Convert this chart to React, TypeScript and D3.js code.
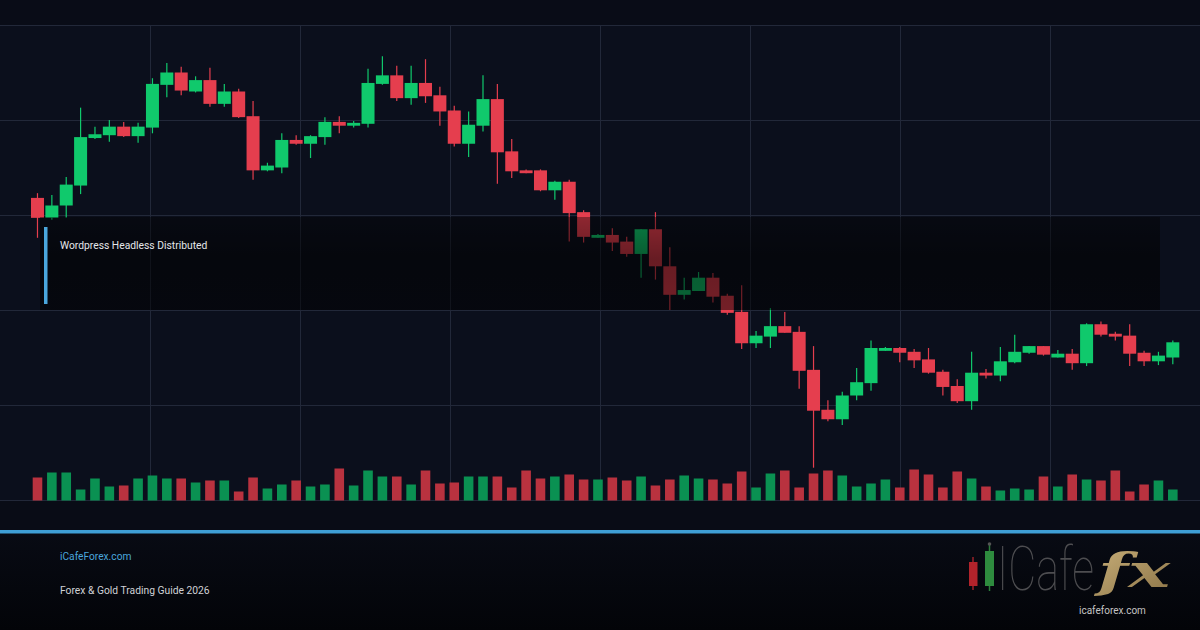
import React, { useRef, useEffect } from "react";
import * as d3 from "d3";

// OHLC, one entry per candle
const opens = [
  2318, 2297, 2310, 2331, 2381, 2384, 2393, 2383, 2392, 2437,
  2450, 2430, 2442, 2417, 2430, 2404, 2347, 2350, 2379, 2375,
  2382, 2398, 2394, 2396, 2438, 2447, 2423, 2439, 2426, 2410,
  2375, 2394, 2422, 2367, 2347, 2347, 2326, 2335, 2303, 2276,
  2279, 2272, 2259, 2285, 2246, 2216, 2220, 2234, 2215, 2198,
  2165, 2172, 2183, 2177, 2137, 2095, 2085, 2110, 2123, 2157,
  2160, 2156, 2148, 2135, 2120, 2104, 2134, 2131, 2145, 2155,
  2162, 2150, 2154, 2144, 2185, 2175, 2173, 2155, 2146, 2150,
];
const highs = [
  2323, 2321, 2340, 2413, 2393, 2400, 2398, 2397, 2444, 2460,
  2456, 2446, 2455, 2438, 2433, 2420, 2355, 2386, 2384, 2384,
  2403, 2404, 2399, 2454, 2467, 2457, 2457, 2464, 2435, 2415,
  2409, 2447, 2438, 2380, 2348, 2348, 2336, 2337, 2305, 2280,
  2286, 2277, 2285, 2303, 2266, 2234, 2240, 2239, 2217, 2226,
  2178, 2202, 2198, 2183, 2162, 2105, 2114, 2139, 2168, 2161,
  2161, 2159, 2160, 2137, 2127, 2156, 2138, 2161, 2174, 2162,
  2162, 2158, 2159, 2186, 2188, 2177, 2185, 2157, 2156, 2168,
];
const lows = [
  2276, 2295, 2297, 2322, 2380, 2377, 2382, 2376, 2386, 2424,
  2426, 2429, 2414, 2414, 2402, 2337, 2346, 2344, 2374, 2360,
  2374, 2386, 2392, 2392, 2437, 2420, 2416, 2418, 2394, 2372,
  2361, 2388, 2333, 2339, 2344, 2325, 2316, 2272, 2271, 2276,
  2262, 2256, 2234, 2232, 2200, 2211, 2220, 2208, 2195, 2159,
  2160, 2160, 2176, 2117, 2034, 2083, 2079, 2105, 2115, 2157,
  2145, 2139, 2133, 2110, 2102, 2095, 2128, 2125, 2144, 2154,
  2152, 2150, 2137, 2141, 2172, 2168, 2141, 2141, 2142, 2143,
];
const closes = [
  2297, 2310, 2332, 2382, 2385, 2393, 2383, 2393, 2438, 2450,
  2431, 2442, 2417, 2430, 2403, 2347, 2352, 2379, 2375, 2383,
  2398, 2394, 2397, 2439, 2447, 2423, 2439, 2425, 2409, 2375,
  2395, 2422, 2366, 2346, 2344, 2326, 2335, 2302, 2277, 2279,
  2271, 2259, 2285, 2246, 2216, 2221, 2234, 2214, 2197, 2165,
  2173, 2183, 2176, 2136, 2094, 2085, 2110, 2124, 2160, 2160,
  2155, 2147, 2134, 2119, 2104, 2134, 2131, 2146, 2156, 2162,
  2153, 2154, 2144, 2185, 2174, 2172, 2154, 2146, 2152, 2166,
];
const volumes = [
  230, 280, 280, 110, 220, 140, 150, 220, 250, 220,
  220, 180, 200, 200, 90, 230, 120, 160, 200, 140,
  160, 320, 150, 300, 240, 240, 160, 300, 170, 180,
  240, 240, 240, 130, 300, 220, 240, 260, 210, 210,
  230, 200, 240, 150, 210, 250, 220, 210, 170, 290,
  130, 270, 300, 130, 270, 300, 250, 140, 170, 210,
  130, 310, 260, 130, 290, 220, 140, 100, 120, 110,
  240, 140, 260, 210, 200, 300, 90, 160, 200, 110,
];
const priceTicks = [2000, 2100, 2200, 2300, 2400, 2500];
const overlayTitle = "Wordpress Headless Distributed";
const siteName = "iCafeForex.com";
const subtitle = "Forex & Gold Trading Guide 2026";
const logoUrl = "icafeforex.com";

const UP = "#10c96c";
const DOWN = "#e53e4e";
const VOL_UP = "#0a9152";
const VOL_DOWN = "#b9323f";

export default function App() {
  const ref = useRef<SVGSVGElement>(null);

  useEffect(() => {
    const width = 1200;
    const height = 630;
    const svg = d3.select(ref.current);
    svg.selectAll("*").remove();
    svg.attr("width", width).attr("height", height);

    const data = opens.map((o, i) => ({
      i,
      open: o,
      high: highs[i],
      low: lows[i],
      close: closes[i],
      volume: volumes[i],
    }));

    const x = d3
      .scaleBand<number>()
      .domain(data.map(d => d.i))
      .range([30.3, 1180])
      .padding(0);
    const y = d3.scaleLinear().domain([2000, 2500]).range([500, 25]);
    const yVol = d3.scaleLinear().domain([0, 1000]).range([500.5, 400.5]);

    const defs = svg.append("defs");
    const fg = defs.append("linearGradient").attr("id", "foot").attr("x1", 0).attr("x2", 0).attr("y1", 0).attr("y2", 1);
    fg.append("stop").attr("offset", "0%").attr("stop-color", "#080b14");
    fg.append("stop").attr("offset", "100%").attr("stop-color", "#030408");
    const og = defs.append("linearGradient").attr("id", "ov").attr("x1", 0).attr("x2", 0).attr("y1", 0).attr("y2", 1);
    og.append("stop").attr("offset", "0%").attr("stop-color", "#000").attr("stop-opacity", 0.38);
    og.append("stop").attr("offset", "45%").attr("stop-color", "#000").attr("stop-opacity", 0.55);
    og.append("stop").attr("offset", "100%").attr("stop-color", "#000").attr("stop-opacity", 0.5);
    const gold = defs.append("linearGradient").attr("id", "gold").attr("x1", 0).attr("x2", 1).attr("y1", 0).attr("y2", 1);
    gold.append("stop").attr("offset", "0%").attr("stop-color", "#c9b07a");
    gold.append("stop").attr("offset", "100%").attr("stop-color", "#8c7447");

    // backgrounds
    svg.append("rect").attr("width", width).attr("height", height).attr("fill", "#0b0f1c");
    svg.append("rect").attr("width", width).attr("height", 25).attr("fill", "#090c17");
    svg.append("rect").attr("y", 500).attr("width", width).attr("height", 32).attr("fill", "#090c16");
    svg.append("rect").attr("y", 532).attr("width", width).attr("height", 98).attr("fill", "url(#foot)");

    // grid
    const grid = svg.append("g").attr("stroke", "#222839").attr("stroke-width", 1);
    grid.selectAll("line.h")
      .data(priceTicks)
      .enter()
      .append("line")
      .attr("x1", 0)
      .attr("x2", width)
      .attr("y1", d => Math.round(y(d)) + 0.5)
      .attr("y2", d => Math.round(y(d)) + 0.5);
    grid.selectAll("line.v")
      .data(d3.range(150, width, 150))
      .enter()
      .append("line")
      .attr("x1", d => d + 0.5)
      .attr("x2", d => d + 0.5)
      .attr("y1", y(2500))
      .attr("y2", y(2000));

    const bw = x.bandwidth();
    const cx = (i: number) => (x(i) as number) + bw / 2;

    // volume bars
    svg.append("g")
      .selectAll("rect")
      .data(data)
      .enter()
      .append("rect")
      .attr("x", d => cx(d.i) - 4.8)
      .attr("width", 9.6)
      .attr("y", d => yVol(d.volume))
      .attr("height", d => yVol(0) - yVol(d.volume))
      .attr("fill", d => (d.close >= d.open ? VOL_UP : VOL_DOWN));

    // candles
    const c = svg.append("g")
      .selectAll("g")
      .data(data)
      .enter()
      .append("g")
      .attr("fill", d => (d.close >= d.open ? UP : DOWN))
      .attr("stroke", d => (d.close >= d.open ? UP : DOWN));
    c.append("line")
      .attr("x1", d => cx(d.i))
      .attr("x2", d => cx(d.i))
      .attr("y1", d => y(d.high))
      .attr("y2", d => y(d.low))
      .attr("stroke-width", 1.2);
    c.append("rect")
      .attr("stroke", "none")
      .attr("x", d => cx(d.i) - 6.5)
      .attr("width", 13)
      .attr("y", d => y(Math.max(d.open, d.close)))
      .attr("height", d => Math.max(2, Math.abs(y(d.open) - y(d.close))));

    // dark caption panel
    svg.append("rect").attr("x", 40).attr("y", 217).attr("width", 1120).attr("height", 93).attr("fill", "url(#ov)");
    svg.append("rect").attr("x", 44).attr("y", 227).attr("width", 3.5).attr("height", 77).attr("fill", "#4aa6dc");
    svg.append("text")
      .attr("x", 60)
      .attr("y", 249)
      .attr("fill", "#e4e6ea")
      .style("font-family", "Roboto, sans-serif")
      .style("font-size", "10.3px")
      .text(overlayTitle);

    // footer
    svg.append("rect").attr("y", 530).attr("width", width).attr("height", 3.5).attr("fill", "#3f9fd6");
    svg.append("text")
      .attr("x", 60)
      .attr("y", 560)
      .attr("fill", "#4aa6dc")
      .style("font-family", "Roboto, sans-serif")
      .style("font-size", "10.2px")
      .text(siteName);
    svg.append("text")
      .attr("x", 60)
      .attr("y", 594)
      .attr("fill", "#d0d2d6")
      .style("font-family", "Roboto, sans-serif")
      .style("font-size", "10.3px")
      .text(subtitle);

    // logo
    const logo = svg.append("g");
    logo.append("line").attr("x1", 973).attr("x2", 973).attr("y1", 557).attr("y2", 590).attr("stroke", "#9a2228").attr("stroke-width", 1.5);
    logo.append("rect").attr("x", 969).attr("y", 562).attr("width", 8.5).attr("height", 24).attr("fill", "#b2232b");
    logo.append("line").attr("x1", 989.5).attr("x2", 989.5).attr("y1", 544).attr("y2", 591).attr("stroke", "#2b7d3a").attr("stroke-width", 1.5);
    logo.append("circle").attr("cx", 989.5).attr("cy", 544).attr("r", 1.8).attr("fill", "#555");
    logo.append("rect").attr("x", 985).attr("y", 551).attr("width", 9).attr("height", 35).attr("fill", "#2e8b3e");

    // "ICafe" wordmark, stretched tall to fit its box
    const word = logo.append("g");
    const wt = word.append("text")
      .attr("x", 0)
      .attr("y", 0)
      .attr("fill", "#4d4d50")
      .style("font-family", "Roboto, sans-serif")
      .style("font-weight", 100)
      .style("font-size", "42px")
      .text("ICafe");
    const len = (wt.node() as SVGTextElement).getComputedTextLength() || 96;
    word.attr("transform", `translate(997,590) scale(${97 / len},1.45)`);

    logo.append("text")
      .attr("x", 1098)
      .attr("y", 587)
      .attr("fill", "url(#gold)")
      .attr("textLength", 72)
      .attr("lengthAdjust", "spacingAndGlyphs")
      .style("font-family", "'DejaVu Serif', serif")
      .style("font-weight", "bold")
      .style("font-style", "italic")
      .style("font-size", "46px")
      .text("fx");
    logo.append("text")
      .attr("x", 1079)
      .attr("y", 614)
      .attr("fill", "#c4c4c4")
      .style("font-family", "Roboto, sans-serif")
      .style("font-size", "10px")
      .text(logoUrl);
  }, []);

  return <svg ref={ref} style={{ position: "fixed", left: 0, top: 0, display: "block" }}></svg>;
}
